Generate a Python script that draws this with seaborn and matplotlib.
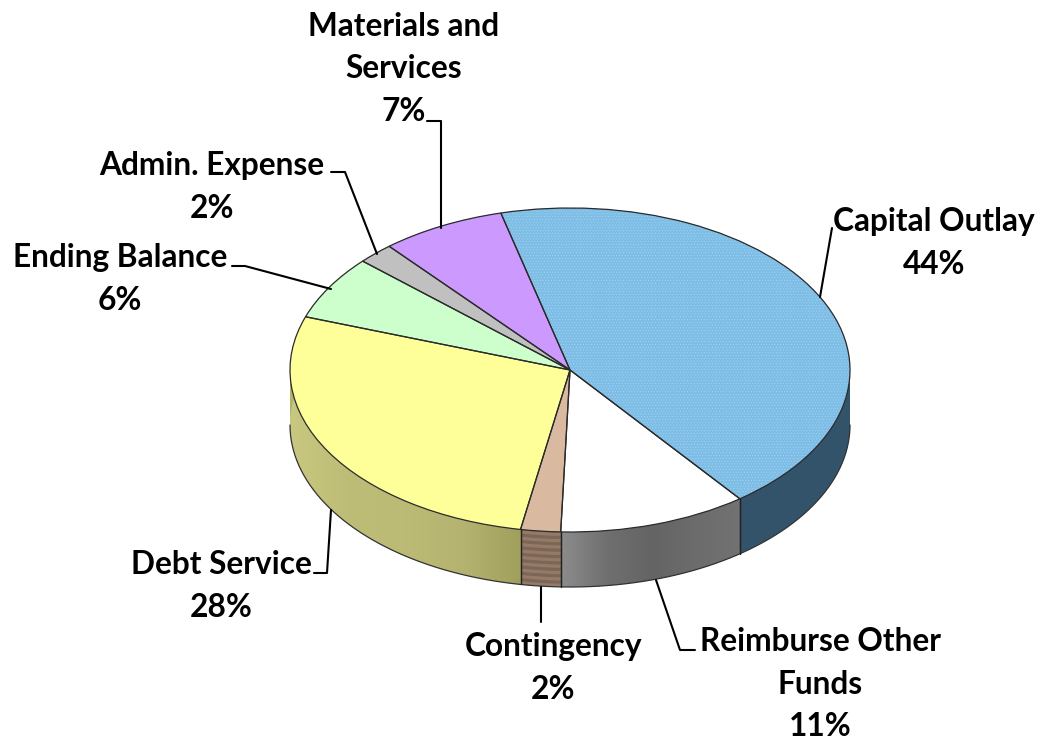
import numpy as np
import seaborn as sns
import matplotlib.pyplot as plt
from matplotlib.colors import LinearSegmentedColormap
from matplotlib.patches import Polygon

categories = ['Capital Outlay', 'Reimburse Other\nFunds', 'Contingency', 'Debt Service',
              'Ending Balance', 'Admin. Expense', 'Materials and\nServices']
shares = [43.6, 10.9, 2.3, 27.5, 6.4, 2.1, 7.2]
percent_labels = [44, 11, 2, 28, 6, 2, 7]

top_colors = ['#7dbde6', '#ffffff', '#d9b99f', '#ffff99', '#ccffcc', '#c0c0c0', '#cc99ff']
side_colors = ['#33536b', '#6e6e6e', '#7d6656', '#b3b36b', '#8fb38f', '#868686', '#8f6bb3']
hatch_colors = ['#a4d2ef', '#ffffff', '#d9b99f', '#ffff99', '#ccffcc', '#c0c0c0', '#cc99ff']

# label centres and leader lines, in image pixels
label_pos = [(934, 243), (820, 684), (553, 668), (221, 586), (120, 279), (212, 187), (404, 69)]
leaders = [
    [(832, 228), (820, 297)],
    [(695, 650), (680, 650), (656, 580)],
    [(541, 622), (541, 587)],
    [(314, 573), (327, 573), (331, 510)],
    [(232, 266), (245, 266), (331, 289)],
    [(331, 172), (345, 172), (377, 254)],
    [(427, 121), (441, 121), (441, 228)],
]

sns.set_theme(style='white')
plt.rcParams['font.family'] = ['Lato', 'DejaVu Sans']
plt.rcParams['hatch.linewidth'] = 0.4

W, H = 1044, 740
cx, cy, rx, ry, depth_px = 570, 370, 280, 162, 55
start = 104.3
depth = depth_px / ry

fig = plt.figure(figsize=(W / 100, H / 100), dpi=100)
ax = fig.add_axes([0, 0, 1, 1])

top_pal = sns.color_palette(top_colors)
side_pal = sns.color_palette(side_colors)


def wall_gradient(wedge, stops):
    # horizontal shading on the front wall of one slice
    lo, hi = wedge.theta1, wedge.theta2
    t = np.radians(np.linspace(lo, hi, 60))
    x, y = np.cos(t), np.sin(t)
    verts = np.r_[np.c_[x, y], np.c_[x, y - depth][::-1]]
    poly = Polygon(verts, closed=True, transform=ax.transData, fc='none', ec='none')
    ax.add_patch(poly)
    cmap = LinearSegmentedColormap.from_list('wall', stops)
    im = ax.imshow(np.linspace(0, 1, 256)[None, :], cmap=cmap, aspect='auto',
                   extent=(x.min(), x.max(), (y - depth).min(), y.max()), zorder=1)
    im.set_clip_path(poly)


# side wall: the same pie stacked downwards, bottom layer first
offsets = np.linspace(depth, 0, 70)
for i, off in enumerate(offsets):
    cols = list(side_pal)
    if (i // 4) % 2 == 0:
        cols[2] = '#947b69'
    ax.pie(shares, colors=cols, startangle=start, counterclock=False,
           center=(0, -off), frame=True, wedgeprops={'linewidth': 0})

# top face is needed first for its angles, so shading goes in under it
top, _ = ax.pie(shares, colors=top_pal, startangle=start, counterclock=False, frame=True,
                wedgeprops={'linewidth': 0, 'zorder': 3})
wall_gradient(top[1], ['#8c8c8c', '#707070', '#646464', '#6c6c6c', '#727272'])
wall_gradient(top[3], ['#c8c880', '#bdbd77', '#bbbb76', '#b4b470', '#a0a05c'])

tex, _ = ax.pie(shares[:1] + [100 - shares[0]], colors=['none', 'none'], startangle=start,
                counterclock=False, frame=True, wedgeprops={'linewidth': 0, 'zorder': 3})
tex[0].set_hatch('......')
tex[0].set_edgecolor(hatch_colors[0])
ax.pie(shares, startangle=start, counterclock=False, frame=True,
       wedgeprops={'fill': False, 'edgecolor': '#2b2b2b', 'linewidth': 0.9, 'zorder': 4})

# lower rim and vertical edges of the wall
rim = np.linspace(np.pi, 2 * np.pi, 200)
ax.plot(np.cos(rim), np.sin(rim) - depth, color='#333333', lw=0.9, zorder=2)
for w in top:
    for ang in (w.theta1, w.theta2):
        x, y = np.cos(np.radians(ang)), np.sin(np.radians(ang))
        if y < 0:
            ax.plot([x, x], [y, y - depth], color='#222222', lw=0.9, zorder=2)

ax.set_aspect('auto')
ax.set_xlim(-cx / rx, (W - cx) / rx)
ax.set_ylim((cy - H) / ry, cy / ry)
ax.axis('off')

# overlay in pixels for labels and leaders
ov = fig.add_axes([0, 0, 1, 1])
ov.set_xlim(0, W)
ov.set_ylim(H, 0)
ov.axis('off')
ov.patch.set_alpha(0)

for pts in leaders:
    ov.plot([p[0] for p in pts], [p[1] for p in pts], color='black', lw=1.5)

for name, val, (x, y) in zip(categories, percent_labels, label_pos):
    ov.text(x, y, f'{name}\n{val}%', ha='center', va='center', fontsize=22.8,
            fontweight='bold', color='black', linespacing=1.55)

fig.savefig('out.png', dpi=100, facecolor='white')
